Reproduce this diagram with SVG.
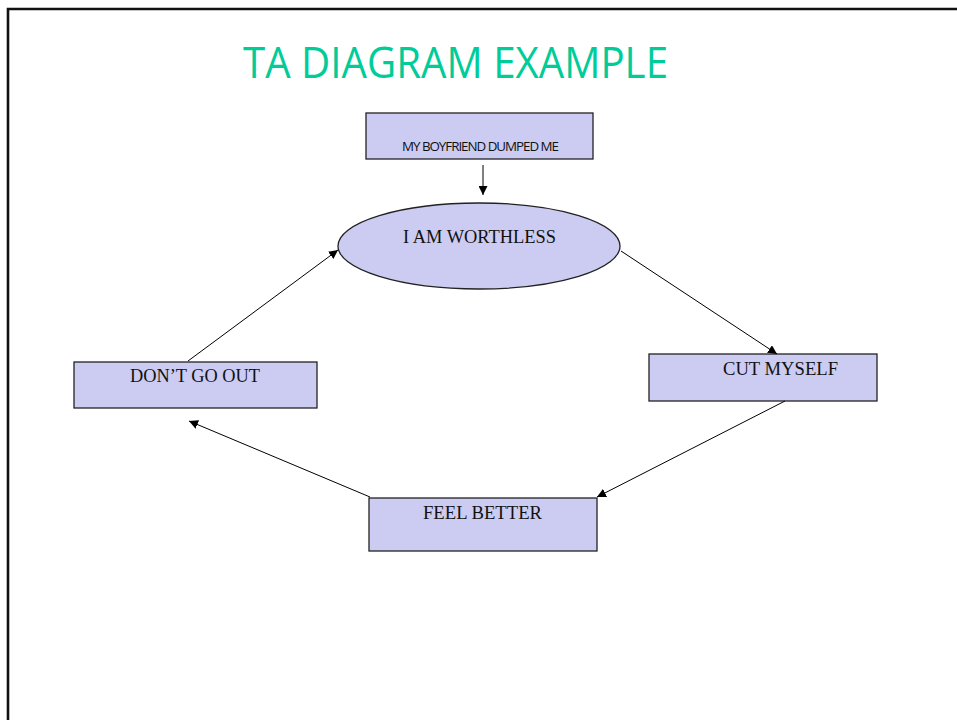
<svg xmlns="http://www.w3.org/2000/svg" width="957" height="720" viewBox="0 0 957 720">
  <defs>
    <marker id="arrow" viewBox="0 0 10 10" refX="10" refY="5" markerWidth="9" markerHeight="9" markerUnits="userSpaceOnUse" orient="auto">
      <path d="M0,0 L10,5 L0,10 z" fill="#000"/>
    </marker>
    <style>
      .node { fill: #CCCCF2; stroke: #222; stroke-width: 1.3; }
      .label { font-family: "Liberation Serif", "Times New Roman", serif; font-size: 18px; fill: #111; }
      .edge { stroke: #000; stroke-width: 1; fill: none; marker-end: url(#arrow); }
    </style>
  </defs>

  <rect x="0" y="0" width="957" height="720" fill="#fff"/>

  <!-- slide frame -->
  <path d="M8,720 L8,9 L957,9" fill="none" stroke="#111" stroke-width="2.6"/>

  <!-- title -->
  <text x="243" y="78" font-family="'Open Sans', 'Liberation Sans', sans-serif" font-size="43" fill="#00CC99" textLength="425" lengthAdjust="spacingAndGlyphs">TA DIAGRAM EXAMPLE</text>

  <g id="trigger">
    <rect class="node" x="366" y="113" width="227" height="46"/>
    <text x="402" y="151" font-family="'Open Sans', 'Liberation Sans', sans-serif" font-size="13" letter-spacing="-1" fill="#111" textLength="156" lengthAdjust="spacingAndGlyphs">MY BOYFRIEND DUMPED ME</text>
  </g>

  <g id="worthless">
    <ellipse class="node" cx="479" cy="246" rx="141" ry="43"/>
    <text class="label" x="403" y="243" textLength="153" lengthAdjust="spacingAndGlyphs">I AM WORTHLESS</text>
  </g>

  <g id="cut-myself">
    <rect class="node" x="649" y="354" width="228" height="47"/>
    <text class="label" x="723" y="375" textLength="115" lengthAdjust="spacingAndGlyphs">CUT MYSELF</text>
  </g>

  <g id="feel-better">
    <rect class="node" x="369" y="498" width="228" height="53"/>
    <text class="label" x="423" y="519" textLength="119" lengthAdjust="spacingAndGlyphs">FEEL BETTER</text>
  </g>

  <g id="dont-go-out">
    <rect class="node" x="74" y="362" width="243" height="46"/>
    <text class="label" x="130" y="382" textLength="130" lengthAdjust="spacingAndGlyphs">DON’T GO OUT</text>
  </g>

  <g id="connectors">
    <line class="edge" x1="483" y1="165" x2="483" y2="195"/>
    <line class="edge" x1="621" y1="251" x2="777" y2="354"/>
    <line class="edge" x1="785" y1="401" x2="597" y2="497"/>
    <line class="edge" x1="370" y1="497" x2="189" y2="421"/>
    <line class="edge" x1="188" y1="361" x2="338" y2="250"/>
  </g>
</svg>
